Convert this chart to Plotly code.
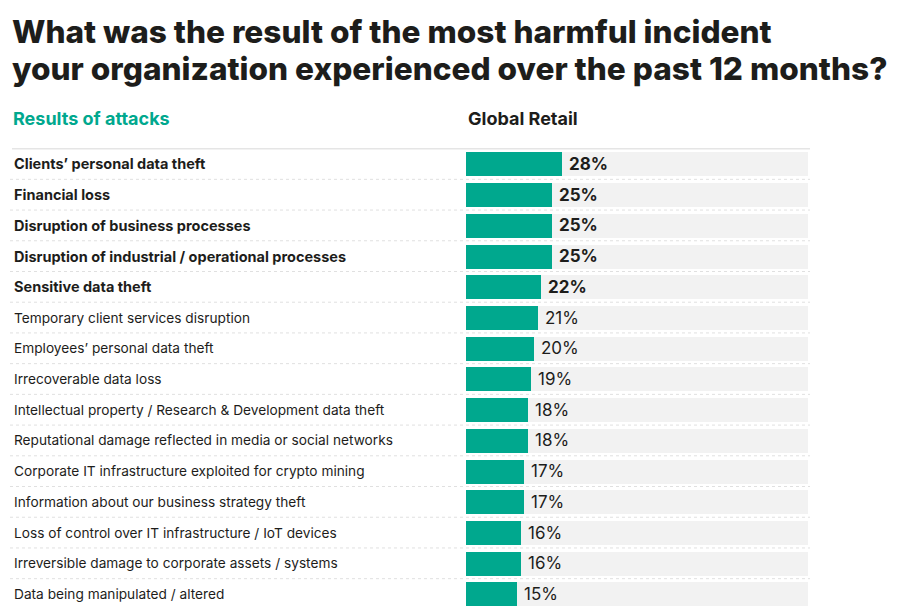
import plotly.graph_objects as go

categories = [
    "Clients’ personal data theft",
    "Financial loss",
    "Disruption of business processes",
    "Disruption of industrial / operational processes",
    "Sensitive data theft",
    "Temporary client services disruption",
    "Employees’ personal data theft",
    "Irrecoverable data loss",
    "Intellectual property / Research & Development data theft",
    "Reputational damage reflected in media or social networks",
    "Corporate IT infrastructure exploited for crypto mining",
    "Information about our business strategy theft",
    "Loss of control over IT infrastructure / IoT devices",
    "Irreversible damage to corporate assets / systems",
    "Data being manipulated / altered",
]
values = [28, 25, 25, 25, 22, 21, 20, 19, 18, 18, 17, 17, 16, 16, 15]
bold_rows = 5
title_lines = ["What was the result of the most harmful incident",
               "your organization experienced over the past 12 months?"]
left_header = "Results of attacks"
right_header = "Global Retail"

TEAL = "#00A88E"
DARK = "#1d1d1b"
FONT = "Inter"

# page has an 8px body margin; figure coordinates = page coordinates - 8
OFF = 8
W, H = 900 - 2 * OFF, 616 - 2 * OFF


def px(p):
    return (p - OFF) / W


def py(p):
    return 1 - (p - OFF) / H


x0, x1 = 466, 808
row_top = 148.6
row_h = 30.72
page_bottom = OFF + H
range_bottom = (page_bottom - row_top) / row_h - 0.5

fig = go.Figure()
fig.add_trace(go.Bar(
    y=categories, x=[100] * len(categories), orientation="h",
    marker=dict(color="#f2f2f2", line=dict(width=0)), width=0.78,
    hoverinfo="skip", showlegend=False,
))
fig.add_trace(go.Bar(
    y=categories, x=values, orientation="h",
    marker=dict(color=TEAL, line=dict(width=0)), width=0.78,
    showlegend=False,
))

annotations = []
for i, (c, v) in enumerate(zip(categories, values)):
    b = i < bold_rows
    annotations.append(dict(
        x=px(12), xref="paper", y=c, yref="y", xanchor="left", yanchor="middle",
        text=f"<b>{c}</b>" if b else c, showarrow=False,
        font=dict(family=FONT, size=14.5 if b else 13.7, color=DARK),
    ))
    annotations.append(dict(
        x=v, xref="x", y=c, yref="y", xanchor="left", yanchor="middle", xshift=5,
        text=f"<b>{v}%</b>" if b else f"{v}%", showarrow=False,
        font=dict(family=FONT, size=17, color=DARK),
    ))

for j, t in enumerate(title_lines):
    annotations.append(dict(
        x=px(10), xref="paper", y=py(31.5 + 37 * j), yref="paper",
        xanchor="left", yanchor="middle", text=t, showarrow=False,
        font=dict(family=FONT, size=31.6, color=DARK, weight=800),
    ))
annotations.append(dict(
    x=px(11), xref="paper", y=py(118), yref="paper", xanchor="left", yanchor="middle",
    text=f"<b>{left_header}</b>", showarrow=False, font=dict(family=FONT, size=18, color=TEAL),
))
annotations.append(dict(
    x=px(466), xref="paper", y=py(118), yref="paper", xanchor="left", yanchor="middle",
    text=f"<b>{right_header}</b>", showarrow=False, font=dict(family=FONT, size=18, color=DARK),
))

shapes = [dict(type="line", xref="paper", yref="y", x0=px(12), x1=px(810),
               y0=-0.5, y1=-0.5, line=dict(color="#cccccc", width=1.5))]
for i in range(len(categories) - 1):
    shapes.append(dict(type="line", xref="paper", yref="y", x0=px(10), x1=px(810),
                       y0=i + 0.5, y1=i + 0.5, line=dict(color="#e0e0e0", width=1, dash="dot")))

fig.update_layout(
    width=W, height=H, margin=dict(l=0, r=0, t=0, b=0),
    paper_bgcolor="white", plot_bgcolor="white",
    barmode="overlay", bargap=0,
    xaxis=dict(range=[0, 100], domain=[px(x0), px(x1)], visible=False, fixedrange=True),
    yaxis=dict(categoryorder="array", categoryarray=categories,
               autorange=False, range=[range_bottom, -0.5],
               domain=[0, py(row_top)], visible=False, fixedrange=True),
    annotations=annotations, shapes=shapes,
)

fig.write_html("out.html")
